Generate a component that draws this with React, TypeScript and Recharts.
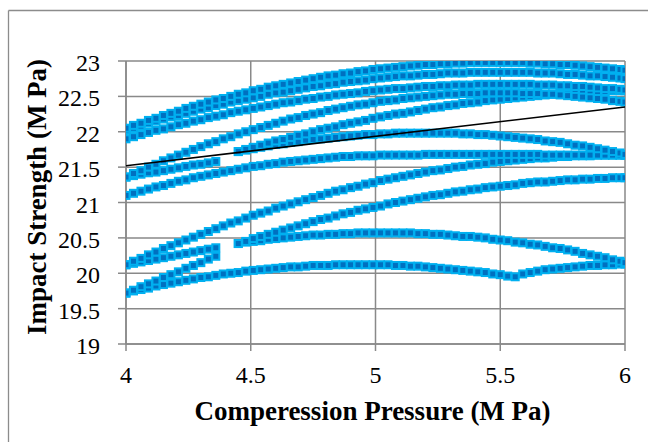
import React from 'react';
import { ScatterChart, Scatter, XAxis, YAxis, CartesianGrid } from 'recharts';

const xValues = [
  4.00, 4.03, 4.06, 4.09, 4.12, 4.15, 4.18, 4.21, 4.24, 4.27,
  4.30, 4.33, 4.36, 4.39, 4.42, 4.45, 4.48, 4.51, 4.54, 4.57,
  4.60, 4.63, 4.66, 4.69, 4.72, 4.75, 4.78, 4.81, 4.84, 4.87,
  4.90, 4.93, 4.96, 4.99, 5.02, 5.05, 5.08, 5.11, 5.14, 5.17,
  5.20, 5.23, 5.26, 5.29, 5.32, 5.35, 5.38, 5.41, 5.44, 5.47,
  5.50, 5.53, 5.56, 5.59, 5.62, 5.65, 5.68, 5.71, 5.74, 5.77,
  5.80, 5.83, 5.86, 5.89, 5.92, 5.95, 5.98, 6.00,
];

const xTicks = [4, 4.5, 5, 5.5, 6];
const yTicks = [19, 19.5, 20, 20.5, 21, 21.5, 22, 22.5, 23];

const curveT1 = [
  22.05, 22.09, 22.12, 22.16, 22.19, 22.23, 22.26, 22.29, 22.33, 22.36,
  22.39, 22.42, 22.45, 22.47, 22.50, 22.53, 22.55, 22.58, 22.60, 22.63,
  22.65, 22.67, 22.69, 22.71, 22.73, 22.75, 22.77, 22.79, 22.80, 22.82,
  22.83, 22.85, 22.86, 22.88, 22.89, 22.90, 22.91, 22.92, 22.93, 22.94,
  22.95, 22.95, 22.96, 22.96, 22.97, 22.97, 22.98, 22.98, 22.98, 22.98,
  22.98, 22.98, 22.98, 22.98, 22.97, 22.97, 22.96, 22.96, 22.95, 22.95,
  22.94, 22.93, 22.92, 22.91, 22.90, 22.89, 22.88, 22.87,
];
const curveT2 = [
  22.02, 22.05, 22.08, 22.12, 22.15, 22.18, 22.21, 22.23, 22.26, 22.29,
  22.32, 22.34, 22.37, 22.39, 22.42, 22.44, 22.46, 22.48, 22.50, 22.53,
  22.55, 22.56, 22.58, 22.60, 22.62, 22.64, 22.65, 22.67, 22.68, 22.70,
  22.71, 22.72, 22.73, 22.75, 22.76, 22.77, 22.78, 22.79, 22.79, 22.80,
  22.81, 22.81, 22.82, 22.83, 22.83, 22.83, 22.84, 22.84, 22.84, 22.84,
  22.84, 22.84, 22.84, 22.84, 22.84, 22.83, 22.83, 22.83, 22.82, 22.81,
  22.81, 22.80, 22.79, 22.79, 22.78, 22.77, 22.76, 22.75,
];
const curveT3 = [
  21.90, 21.93, 21.96, 21.99, 22.02, 22.04, 22.07, 22.10, 22.12, 22.15,
  22.17, 22.20, 22.22, 22.24, 22.27, 22.29, 22.31, 22.33, 22.35, 22.37,
  22.39, 22.41, 22.42, 22.44, 22.46, 22.47, 22.49, 22.50, 22.52, 22.53,
  22.54, 22.55, 22.57, 22.58, 22.59, 22.60, 22.61, 22.61, 22.62, 22.63,
  22.64, 22.64, 22.65, 22.65, 22.66, 22.66, 22.66, 22.67, 22.67, 22.67,
  22.67, 22.67, 22.67, 22.67, 22.67, 22.66, 22.66, 22.66, 22.65, 22.65,
  22.64, 22.64, 22.63, 22.62, 22.61, 22.61, 22.60, 22.59,
];
const curveC4 = [
  21.36, 21.41, 21.45, 21.50, 21.54, 21.59, 21.63, 21.67, 21.71, 21.75,
  21.79, 21.83, 21.86, 21.90, 21.93, 21.97, 22.00, 22.03, 22.06, 22.09,
  22.12, 22.15, 22.18, 22.20, 22.23, 22.25, 22.27, 22.30, 22.32, 22.34,
  22.36, 22.38, 22.39, 22.41, 22.43, 22.44, 22.45, 22.47, 22.48, 22.49,
  22.50, 22.51, 22.52, 22.53, 22.53, 22.54, 22.54, 22.54, 22.55, 22.55,
  22.55, 22.55, 22.55, 22.54, 22.54, 22.54, 22.53, 22.53, 22.52, 22.51,
  22.50, 22.49, 22.48, 22.47, 22.46, 22.44, 22.43, 22.42,
];
const curveC5 = [
  21.72, 21.75, 21.78, 21.81, 21.84, 21.87, 21.89, 21.92, 21.95, 21.97,
  22.00, 22.03, 22.05, 22.07, 22.10, 22.12, 22.14, 22.16, 22.19, 22.21,
  22.23, 22.25, 22.26, 22.28, 22.30, 22.32, 22.34, 22.35, 22.37, 22.38,
  22.40, 22.41, 22.42, 22.44, 22.45, 22.46, 22.47, 22.48, 22.49, 22.50,
  22.51, 22.52, 22.53, 22.54, 22.54, 22.55, 22.56, 22.56, 22.57, 22.57,
  22.58, 22.58, 22.58,
];
const curveD = [
  21.72, 21.74, 21.76, 21.78, 21.80, 21.82, 21.83, 21.85, 21.86, 21.88,
  21.89, 21.90, 21.91, 21.92, 21.93, 21.94, 21.95, 21.96, 21.96, 21.97,
  21.97, 21.98, 21.98, 21.98, 21.98, 21.98, 21.98, 21.98, 21.98, 21.98,
  21.97, 21.97, 21.96, 21.96, 21.95, 21.94, 21.93, 21.92, 21.91, 21.90,
  21.89, 21.87, 21.86, 21.85, 21.83, 21.81, 21.80, 21.78, 21.76, 21.74,
  21.72, 21.70, 21.68,
];
const curveF = [
  21.10, 21.13, 21.16, 21.19, 21.22, 21.24, 21.27, 21.30, 21.32, 21.35,
  21.37, 21.39, 21.41, 21.43, 21.45, 21.47, 21.49, 21.51, 21.52, 21.54,
  21.55, 21.57, 21.58, 21.59, 21.60, 21.61, 21.62, 21.63, 21.64, 21.65,
  21.65, 21.66, 21.66, 21.66, 21.67, 21.67, 21.67, 21.67, 21.67, 21.67,
  21.68, 21.68, 21.68, 21.68, 21.68, 21.68, 21.68, 21.68, 21.68, 21.68,
  21.68, 21.68, 21.68, 21.68, 21.68, 21.68, 21.67, 21.67, 21.67, 21.67,
  21.67, 21.67, 21.67, 21.67, 21.67, 21.67, 21.67, 21.67,
];
const curveU1 = [
  20.12, 20.17, 20.21, 20.26, 20.30, 20.35, 20.39, 20.43, 20.47, 20.51,
  20.55, 20.59, 20.63, 20.67, 20.71, 20.74, 20.78, 20.82, 20.85, 20.88,
  20.92, 20.95, 20.98, 21.01, 21.04, 21.07, 21.10, 21.13, 21.16, 21.18,
  21.21, 21.23, 21.26, 21.28, 21.31, 21.33, 21.35, 21.37, 21.39, 21.41,
  21.43, 21.45, 21.46, 21.48, 21.50, 21.51, 21.53, 21.54, 21.55, 21.57,
  21.58, 21.59, 21.60, 21.61, 21.62, 21.63, 21.63, 21.64, 21.65, 21.65,
  21.66, 21.66, 21.66, 21.67, 21.67, 21.67, 21.67, 21.67,
];
const curveM1 = [
  20.42, 20.45, 20.49, 20.52, 20.55, 20.58, 20.61, 20.64, 20.67, 20.70,
  20.73, 20.76, 20.78, 20.81, 20.84, 20.86, 20.89, 20.91, 20.93, 20.95,
  20.98, 21.00, 21.02, 21.04, 21.06, 21.08, 21.10, 21.11, 21.13, 21.15,
  21.16, 21.18, 21.19, 21.21, 21.22, 21.23, 21.24, 21.25, 21.27, 21.28,
  21.29, 21.29, 21.30, 21.31, 21.32, 21.32, 21.33, 21.33, 21.34, 21.34,
  21.35, 21.35, 21.35,
];
const curveM2 = [
  20.42, 20.44, 20.45, 20.46, 20.48, 20.49, 20.50, 20.51, 20.52, 20.53,
  20.54, 20.54, 20.55, 20.55, 20.56, 20.56, 20.57, 20.57, 20.57, 20.57,
  20.57, 20.57, 20.57, 20.57, 20.56, 20.56, 20.55, 20.55, 20.54, 20.53,
  20.52, 20.52, 20.51, 20.50, 20.48, 20.47, 20.46, 20.44, 20.43, 20.41,
  20.40, 20.38, 20.36, 20.35, 20.33, 20.31, 20.28, 20.26, 20.24, 20.22,
  20.19, 20.17, 20.15,
];
const curveL1 = [
  19.72, 19.75, 19.77, 19.79, 19.82, 19.84, 19.86, 19.88, 19.90, 19.92,
  19.94, 19.95, 19.97, 19.99, 20.00, 20.01, 20.03, 20.04, 20.05, 20.06,
  20.07, 20.08, 20.09, 20.09, 20.10, 20.11, 20.11, 20.11, 20.12, 20.12,
  20.12, 20.12, 20.12, 20.12, 20.12, 20.12, 20.11, 20.11, 20.10, 20.10,
  20.09, 20.08, 20.07, 20.06, 20.05, 20.04, 20.03, 20.02, 20.01, 19.99,
  19.98, 19.96, 19.95, 19.99, 20.01, 20.03, 20.05, 20.06, 20.07, 20.08,
  20.09, 20.10, 20.11, 20.11, 20.12, 20.12, 20.13, 20.13,
];
const curveP1 = [21.36, 21.38, 21.40, 21.42, 21.43, 21.45, 21.47, 21.49, 21.51, 21.53, 21.54, 21.56, 21.58];
const curveU2 = [20.12, 20.14, 20.16, 20.18, 20.20, 20.22, 20.24, 20.26, 20.28, 20.30, 20.32, 20.34, 20.36];
const curveL2 = [19.72, 19.76, 19.81, 19.85, 19.89, 19.94, 19.98, 20.02, 20.07, 20.11, 20.15, 20.20, 20.24];

const trendX = [4, 6];
const trendY = [21.52, 22.35];

const seriesDefs = [
  { start: 0, values: curveL1 },
  { start: 0, values: curveL2 },
  { start: 0, values: curveU2 },
  { start: 15, values: curveM2 },
  { start: 15, values: curveM1 },
  { start: 0, values: curveU1 },
  { start: 0, values: curveF },
  { start: 0, values: curveP1 },
  { start: 15, values: curveD },
  { start: 15, values: curveC5 },
  { start: 0, values: curveC4 },
  { start: 0, values: curveT3 },
  { start: 0, values: curveT2 },
  { start: 0, values: curveT1 },
];

const seriesData = seriesDefs.map((s) =>
  s.values.map((y, i) => ({ x: xValues[s.start + i], y }))
);
const trendData = trendX.map((x, i) => ({ x, y: trendY[i] }));

const FONT = '"Liberation Serif", "Times New Roman", serif';
const GRID = '#898989';

const Square = (props: any) => {
  const { cx, cy } = props;
  if (cx == null || cy == null) return <g />;
  return (
    <rect
      x={cx - 3.5}
      y={cy - 3.5}
      width={7}
      height={7}
      fill="#0070C0"
      stroke="#00B0F0"
      strokeWidth={2}
    />
  );
};

const NoShape = () => <g />;

const XTick = (props: any) => {
  const { x, y, payload } = props;
  return (
    <text x={x} y={y + 32} textAnchor="middle" fontFamily={FONT} fontSize={24} fill="#000">
      {payload.value}
    </text>
  );
};

const YTick = (props: any) => {
  const { x, y, payload } = props;
  return (
    <text x={x - 18} y={y + 10} textAnchor="end" fontFamily={FONT} fontSize={24} fill="#000">
      {payload.value}
    </text>
  );
};

export default function App() {
  return (
    <div style={{ position: 'absolute', left: 0, top: 0, width: 648, height: 442, background: '#fff', overflow: 'hidden' }}>
      <ScatterChart
        width={648}
        height={442}
        margin={{ top: 61, right: 23, bottom: 0, left: 0 }}
      >
        <CartesianGrid stroke={GRID} strokeWidth={1.5} />
        <XAxis
          type="number"
          dataKey="x"
          domain={[4, 6]}
          ticks={xTicks}
          allowDataOverflow
          height={98}
          tickSize={7}
          tickMargin={0}
          stroke={GRID}
          strokeWidth={1.5}
          tick={<XTick />}
        />
        <YAxis
          type="number"
          dataKey="y"
          domain={[19, 23]}
          ticks={yTicks}
          allowDataOverflow
          width={126}
          tickSize={8}
          tickMargin={0}
          stroke={GRID}
          strokeWidth={1.5}
          tick={<YTick />}
        />
        {seriesData.map((d, i) => (
          <Scatter key={i} data={d} shape={<Square />} isAnimationActive={false} />
        ))}
        <Scatter
          data={trendData}
          line={{ stroke: '#000', strokeWidth: 1.6 }}
          shape={<NoShape />}
          isAnimationActive={false}
        />
      </ScatterChart>
      <svg
        width={648}
        height={442}
        style={{ position: 'absolute', left: 0, top: 0, pointerEvents: 'none' }}
      >
        <line x1={8.5} y1={10.5} x2={648} y2={10.5} stroke="#8c8c8c" strokeWidth={1.3} />
        <line x1={8.5} y1={10.5} x2={8.5} y2={442} stroke="#8c8c8c" strokeWidth={1.3} />
        <text
          x={372.5}
          y={411}
          textAnchor="middle"
          dominantBaseline="central"
          fontFamily={FONT}
          fontWeight="bold"
          fontSize={27}
          fill="#000"
        >
          Comperession Pressure (M Pa)
        </text>
        <text
          x={36.5}
          y={197}
          transform="rotate(-90, 36.5, 197)"
          textAnchor="middle"
          dominantBaseline="central"
          fontFamily={FONT}
          fontWeight="bold"
          fontSize={27}
          fill="#000"
        >
          Impact Strength (M Pa)
        </text>
      </svg>
    </div>
  );
}
